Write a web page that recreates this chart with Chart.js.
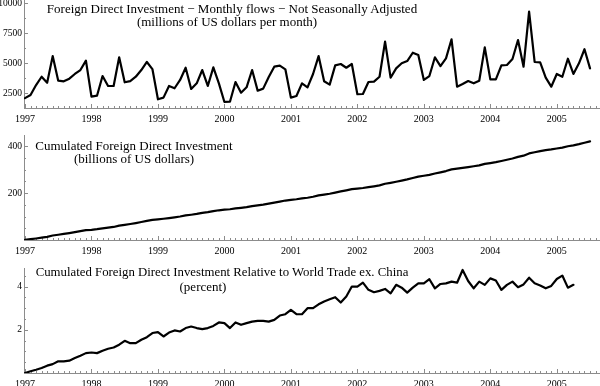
<!DOCTYPE html>
<html>
<head>
<meta charset="utf-8">
<script src="https://cdn.jsdelivr.net/npm/chart.js@4/dist/chart.umd.min.js"></script>
<style>
  body { margin: 0; background: #fff; width: 600px; height: 386px; overflow: hidden; position: relative; }
  canvas { position: absolute; left: 0; }
  .ttl { position: absolute; font: 13px "Liberation Serif", "Times New Roman", serif; color: #000;
         white-space: nowrap; text-align: center; width: 500px; line-height: 13px; }
</style>
</head>
<body>
<canvas id="c1" width="600" height="126" style="top:0"></canvas>
<canvas id="c2" width="600" height="132" style="top:126px"></canvas>
<canvas id="c3" width="600" height="128" style="top:258px"></canvas>

<div class="ttl" style="left:-18px;top:2px">Foreign Direct Investment &minus; Monthly flows &minus; Not Seasonally Adjusted</div>
<div class="ttl" style="left:-23px;top:15px">(millions of US dollars per month)</div>
<div class="ttl" style="left:-116px;top:139px">Cumulated Foreign Direct Investment</div>
<div class="ttl" style="left:-116px;top:152px">(billions of US dollars)</div>
<div class="ttl" style="left:-28px;top:266px;font-size:12.8px">Cumulated Foreign Direct Investment Relative to World Trade ex. China</div>
<div class="ttl" style="left:-47px;top:280px">(percent)</div>

<script>
// Data, monthly from Jan 1997
const startYear = 1997;
const years = [1997, 1998, 1999, 2000, 2001, 2002, 2003, 2004, 2005];

// monthly flows, millions of US dollars
const monthlyFlows = [
  2100, 2360, 3190, 3880, 3380, 5600, 3550, 3500, 3720, 4110, 4440, 5220,
  2220, 2300, 3940, 3110, 3110, 5500, 3420, 3520, 3880, 4440, 5110, 4520,
  2000, 2140, 3110, 2920, 3610, 4630, 2860, 3330, 4440, 3110, 4660, 3330,
  1780, 1800, 3440, 2550, 3000, 4440, 2720, 2890, 3860, 4720, 4800, 4500,
  2140, 2280, 3330, 3000, 4110, 5600, 3500, 3220, 4830, 4940, 4630, 4940,
  2420, 2440, 3440, 3470, 3880, 6800, 3800, 4580, 5000, 5190, 5880, 5690,
  3610, 3940, 5500, 4770, 5410, 7000, 3050, 3270, 3520, 3330, 3550, 6330,
  3660, 3660, 4830, 4860, 5360, 6940, 4720, 9300, 5110, 5080, 3800, 3050,
  4110, 3880, 5380, 4110, 5000, 6170, 4580
];

// cumulated flows, billions of US dollars
const cumulated = [
  1, 3.5, 6.5, 10, 13.5, 19, 22.5, 26, 29.5, 33.5, 37.5, 42,
  43.5, 46, 49.5, 52.5, 55.5, 61, 64.5, 68, 72, 76.5, 81.5, 86,
  88, 90.5, 93.5, 96.5, 100, 104.5, 107.5, 111, 115.5, 118.5, 123, 126.5,
  129, 131, 134.5, 137, 140, 144.5, 147.5, 150.5, 154.5, 159, 163.5, 168,
  171, 173.5, 177, 180, 184, 190, 193.5, 197, 202, 207, 211.5, 216.5,
  219, 221.5, 225, 228.5, 232.5, 239.5, 243.5, 248, 253, 258, 264, 270,
  273.5, 277.5, 283, 288, 293.5, 300.5, 303.5, 307, 310.5, 314, 317.5, 324,
  327.5, 331.5, 336.5, 341.5, 347, 354, 359, 368.5, 373.5, 378.5, 382.5, 385.5,
  389.5, 393.5, 399, 403, 408, 414, 420
];

// cumulated flows relative to world trade ex. China, percent
const relativeToTrade = [
  0.0, 0.08, 0.15, 0.23, 0.34, 0.41, 0.54, 0.54, 0.57, 0.69, 0.80, 0.92,
  0.95, 0.92, 1.03, 1.12, 1.18, 1.31, 1.49, 1.38, 1.38, 1.54, 1.66, 1.85,
  1.89, 1.69, 1.87, 1.97, 1.92, 2.08, 2.15, 2.08, 2.03, 2.08, 2.18, 2.34,
  2.31, 2.08, 2.34, 2.23, 2.31, 2.38, 2.41, 2.41, 2.38, 2.46, 2.66, 2.72,
  2.92, 2.72, 2.72, 3.0, 3.0, 3.18, 3.31, 3.41, 3.51, 3.26, 3.54, 4.0,
  4.0, 4.18, 3.85, 3.74, 3.8, 3.89, 3.69, 4.08, 3.95, 3.72, 3.95, 4.15,
  4.15, 4.34, 3.92, 4.12, 4.15, 4.23, 4.18, 4.77, 4.26, 3.92, 4.23, 4.08,
  4.38, 4.28, 3.85, 4.08, 4.23, 3.97, 4.1, 4.41, 4.15, 4.05, 3.92, 4.03,
  4.35, 4.51, 3.95, 4.08
];

// y tick labels shown on each panel
const flowTicks = [2500, 5000, 7500, 10000];
const cumTicks = [200, 400];
const pctTicks = [2, 4];

const fontFamily = '"Liberation Serif", "Times New Roman", serif';
const xMin = 1996.985, xMax = 2005.65;

function toPoints(values) {
  return values.map((v, i) => ({ x: startYear + i / 12, y: v }));
}

// axis lines and tick marks, drawn inside the plot like the original
const axesPlugin = {
  id: 'axes',
  beforeDatasetsDraw(chart, args, opts) {
    const { ctx, chartArea: a, scales } = chart;
    const xs = scales.x, ys = scales.y;
    ctx.save();
    ctx.strokeStyle = '#8c8c8c';
    ctx.lineWidth = 1;
    ctx.beginPath();
    ctx.moveTo(a.left + 0.5, a.top);
    ctx.lineTo(a.left + 0.5, a.bottom);
    ctx.moveTo(a.left, a.bottom + 0.5);
    ctx.lineTo(a.right, a.bottom + 0.5);
    // monthly ticks
    for (let m = 0; startYear + m / 12 <= xs.max; m++) {
      const px = Math.round(xs.getPixelForValue(startYear + m / 12)) + 0.5;
      const len = m % 12 === 0 ? 4 : 2;
      ctx.moveTo(px, a.bottom);
      ctx.lineTo(px, a.bottom - len);
    }
    // y ticks
    for (let v = opts.minor; v <= ys.max; v += opts.minor) {
      if (v < ys.min) continue;
      const py = Math.round(ys.getPixelForValue(v)) + 0.5;
      const major = Math.abs(v / opts.major - Math.round(v / opts.major)) < 1e-6;
      ctx.moveTo(a.left, py);
      ctx.lineTo(a.left + (major ? 4 : 2), py);
    }
    ctx.stroke();
    ctx.restore();
  }
};

function makePanel(id, values, yMin, yMax, major, minor, shown, padTop, axisH) {
  new Chart(document.getElementById(id), {
    type: 'line',
    data: {
      datasets: [{
        data: toPoints(values),
        borderColor: '#000',
        borderWidth: 2.2,
        borderJoinStyle: 'round',
        borderCapStyle: 'round',
        pointRadius: 0,
        tension: 0,
        fill: false
      }]
    },
    options: {
      responsive: false,
      animation: false,
      layout: { padding: { top: padTop, left: 0, right: 0, bottom: 0 } },
      plugins: {
        legend: { display: false },
        tooltip: { enabled: false },
        axes: { major: major, minor: minor }
      },
      scales: {
        x: {
          type: 'linear',
          min: xMin,
          max: xMax,
          grid: { display: false, drawTicks: false },
          border: { display: false },
          ticks: {
            padding: 5,
            maxRotation: 0,
            autoSkip: false,
            color: '#000',
            font: { family: fontFamily, size: 10 },
            callback: v => String(v)
          },
          afterBuildTicks: s => {
            s.ticks = years.map(v => ({ value: v }));
            s.min = xMin;
            s.max = xMax;
          },
          afterFit: s => { s.height = axisH; s.paddingLeft = 0; s.paddingRight = 0; }
        },
        y: {
          min: yMin,
          max: yMax,
          grid: { display: false, drawTicks: false },
          border: { display: false },
          ticks: {
            padding: 2,
            autoSkip: false,
            color: '#000',
            font: { family: fontFamily, size: 9.5 },
            callback: v => String(v)
          },
          afterBuildTicks: s => {
            s.ticks = shown.map(v => ({ value: v }));
            s.min = yMin;
            s.max = yMax;
          },
          afterFit: s => { s.width = 24; s.paddingTop = 0; s.paddingBottom = 0; }
        }
      }
    },
    plugins: [axesPlugin]
  });
}

makePanel('c1', monthlyFlows, 1275, 10275, 2500, 1250, flowTicks, 0, 18);
makePanel('c2', cumulated, 0, 447, 200, 50, cumTicks, 9, 18);
makePanel('c3', relativeToTrade, 0, 4.86, 2, 0.5, pctTicks, 10, 13);
</script>
</body>
</html>
